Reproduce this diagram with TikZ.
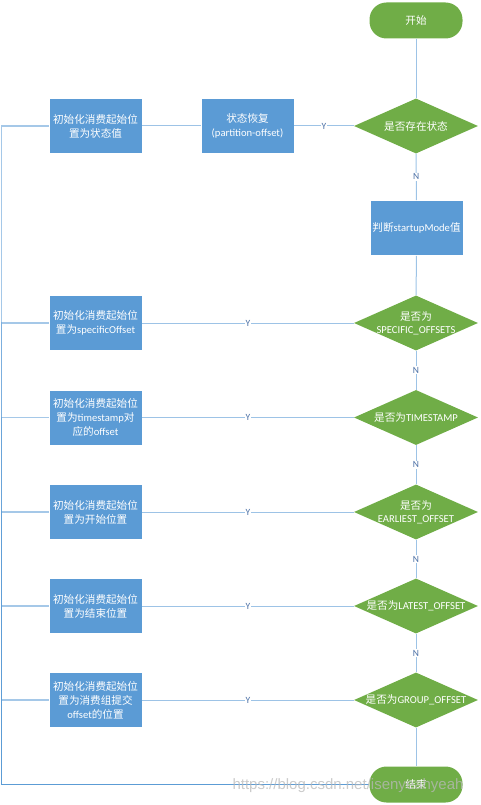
\documentclass[tikz,border=0pt]{standalone}
\usepackage{fontspec}
\setmainfont{Carlito}
\newfontfamily\cjk{Noto Sans CJK SC}
\newfontfamily\wmfont{Liberation Sans}
\usetikzlibrary{shapes.geometric}
\definecolor{boxblue}{HTML}{5B9BD5}
\definecolor{dgreen}{HTML}{70AD47}
\definecolor{lineblue}{HTML}{5B9BD5}
\definecolor{lblcol}{HTML}{4A6FA5}
\newcommand\zh[1]{{\cjk #1}}
\begin{document}
\begin{tikzpicture}[x=1pt,y=-1pt,
  font=\fontsize{10.6}{14}\selectfont,
  procbox/.style={rectangle, fill=boxblue, draw=white, line width=0.6pt,
    minimum width=93pt, minimum height=55pt, inner sep=0pt, text=white, align=center},
  termbox/.style={rectangle, rounded corners=17pt, fill=dgreen,
    minimum width=93pt, minimum height=36pt, inner sep=0pt, text=white},
  decbox/.style={diamond, fill=dgreen, minimum width=124pt, minimum height=55pt, inner sep=0pt},
  dectext/.style={text=white, align=center, inner sep=0pt, font=\fontsize{10.6}{13}\selectfont},
  conn/.style={draw=lineblue, draw opacity=0.6, line width=1pt},
  leftconn/.style={draw=lineblue, draw opacity=0.55, line width=1.3pt},
  lbl/.style={fill=white, inner sep=1pt, text=lblcol, font=\fontsize{9.5}{10}\selectfont}
]
\useasboundingbox (0,0) rectangle (481,805);

% terminals
\node[termbox] (start) at (416,20.5) {\zh{开始}};
\node[termbox] (end) at (416,784.5) {\zh{结束}};

% decisions
\node[decbox] (d1) at (416,126) {};
\node[dectext] (d1t) at (d1) {\zh{是否存在状态}};
\node[decbox] (d2) at (416,323) {};
\node[dectext] (d2t) at (d2) {\zh{是否为}\\SPECIFIC\_OFFSETS};
\node[decbox] (d3) at (416,417.5) {};
\node[dectext] (d3t) at (d3) {\zh{是否为}TIMESTAMP};
\node[decbox] (d4) at (416,512) {};
\node[dectext] (d4t) at (d4) {\zh{是否为}\\EARLIEST\_OFFSET};
\node[decbox] (d5) at (416,606) {};
\node[dectext] (d5t) at (d5) {\zh{是否为}LATEST\_OFFSET};
\node[decbox] (d6) at (416,700) {};
\node[dectext] (d6t) at (d6) {\zh{是否为}GROUP\_OFFSET};

% process boxes
\node[procbox] (mode) at (416.5,228) {\zh{判断}startupMode\zh{值}};
\node[procbox] (restore) at (247.5,126) {\zh{状态恢复}\\(partition-offset)};
\node[procbox] (b1) at (95.5,126) {\zh{初始化消费起始位}\\\zh{置为状态值}};
\node[procbox] (b2) at (95.5,323) {\zh{初始化消费起始位}\\\zh{置为}specificOffset};
\node[procbox] (b3) at (95.5,417.5) {\zh{初始化消费起始位}\\\zh{置为}timestamp\zh{对}\\\zh{应的}offset};
\node[procbox] (b4) at (95.5,512) {\zh{初始化消费起始位}\\\zh{置为开始位置}};
\node[procbox] (b5) at (95.5,606) {\zh{初始化消费起始位}\\\zh{置为结束位置}};
\node[procbox] (b6) at (95.5,700) {\zh{初始化消费起始位}\\\zh{置为消费组提交}\\offset\zh{的位置}};

% main flow
\draw[conn] (start) -- (d1);
\draw[conn] (d1) -- node[lbl] {N} (mode);
\draw[conn] (mode) -- (d2);
\draw[conn] (d2) -- node[lbl] {N} (d3);
\draw[conn] (d3) -- node[lbl] {N} (d4);
\draw[conn] (d4) -- node[lbl] {N} (d5);
\draw[conn] (d5) -- node[lbl] {N} (d6);
\draw[conn] (d6) -- (end);

% Y branches
\draw[conn] (d1.west) -- node[lbl] {Y} (restore.east);
\draw[conn] (restore.west) -- (b1.east);
\draw[conn] (d2.west) -- node[lbl] {Y} (b2.east);
\draw[conn] (d3.west) -- node[lbl] {Y} (b3.east);
\draw[conn] (d4.west) -- node[lbl] {Y} (b4.east);
\draw[conn] (d5.west) -- node[lbl] {Y} (b5.east);
\draw[conn] (d6.west) -- node[lbl] {Y} (b6.east);

% returns to end along the left edge
\coordinate (Lx) at (1.5,0);
\coordinate (Lbot) at (Lx |- end.west);
\foreach \b in {b1,b2,b3,b4,b5,b6}{
  \draw[leftconn] (\b.west) -- (\b.west -| Lx) -- (Lbot) -- (end.west);
}

% watermark
\node[text=gray!55, opacity=0.75, inner sep=0pt, font=\wmfont\fontsize{15}{16}\selectfont] (wm) at (348,786) {https://blog.csdn.net/isenyeahyeah};
\end{tikzpicture}
\end{document}
